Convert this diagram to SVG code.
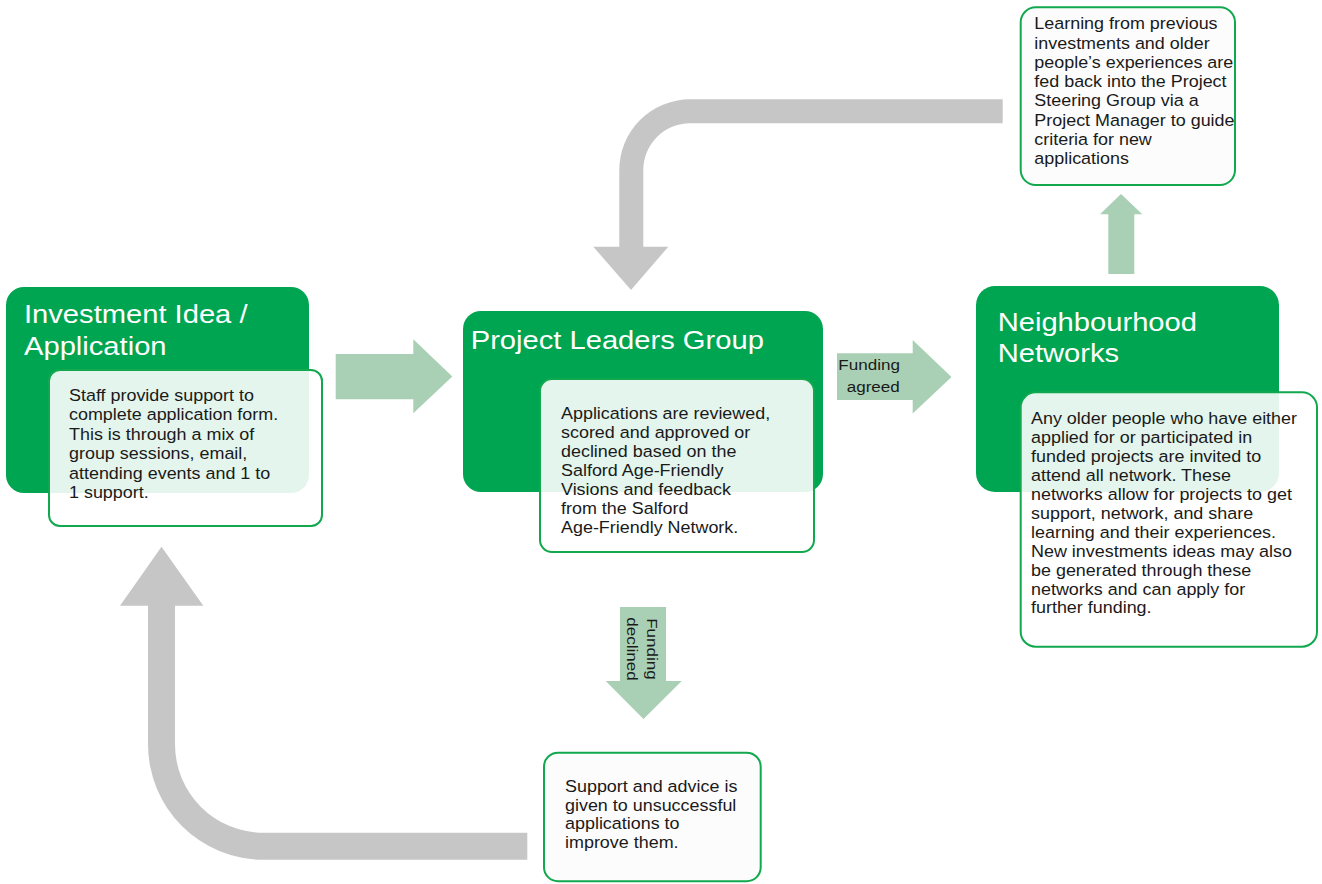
<svg xmlns="http://www.w3.org/2000/svg" width="1322" height="884" viewBox="0 0 1322 884">
<style>
.g{fill:#00a551}
.inner{fill:#ffffff;fill-opacity:0.89;stroke:#12a84e;stroke-width:2}
.note{fill:#fcfcfc;stroke:#12a84e;stroke-width:2}
.t{font-family:"Liberation Sans",Arial,sans-serif;font-size:16.3px;fill:#1a1a1a}
.s{font-family:"Liberation Sans",Arial,sans-serif;font-size:15.5px;fill:#1a1a1a}
.h{font-family:"Liberation Sans",Arial,sans-serif;font-size:26.5px;fill:#ffffff}
.la{fill:#a9d0b4}
.gr{fill:#c6c6c6}
</style>
<rect width="1322" height="884" fill="#ffffff"/>
<g id="connectors">
<path class="gr" d="M1002.7 99.3 L690 99.3 A70.7 70.7 0 0 0 619.3 170 L619.3 246.7 L593.3 246.7 L631 290 L668.3 246.7 L643.3 246.7 L643.3 170 A46.7 46.7 0 0 1 690 123.3 L1002.7 123.3 Z"/>
<path class="gr" d="M527.3 832.8 L263.5 832.8 A88.5 88.5 0 0 1 175 744.3 L175 605.7 L203.3 605.7 L161.5 546.7 L120 605.7 L148 605.7 L148 744.3 A115.5 115.5 0 0 0 263.5 859.8 L527.3 859.8 Z"/>
<path class="la" d="M335.7 354 L413.3 354 L413.3 339.3 L452.3 376.5 L413.3 413.3 L413.3 399.3 L335.7 399.3 Z"/>
<g id="funding-agreed">
<path class="la" d="M837 353.3 L912.7 353.3 L912.7 340 L951.5 377 L912.7 413.5 L912.7 400 L837 400 Z"/>
<text class="s" transform="translate(838.3,370) scale(1.1,1)">Funding</text>
<text class="s" transform="translate(846.7,392) scale(1.1,1)">agreed</text>
</g>
<g id="funding-declined">
<path class="la" d="M620 607 L666 607 L666 681 L681.7 681 L643.5 719 L605.7 681 L620 681 Z"/>
<text class="s" text-anchor="middle" transform="translate(646.7,649) rotate(90) scale(1.1,1)"><tspan x="0" y="0">Funding</tspan><tspan x="0" y="19.4">declined</tspan></text>
</g>
<path class="la" d="M1108.3 274 L1108.3 214.3 L1100 214.3 L1121 194 L1142.3 214.3 L1134.3 214.3 L1134.3 274 Z"/>
</g>
<g id="investment-idea">
<rect class="g" x="6" y="287" width="303" height="206" rx="18"/>
<text class="h" transform="translate(24,322.7) scale(1.1,1)"><tspan x="0" y="0">Investment Idea /</tspan><tspan x="0" y="32">Application</tspan></text>
<rect class="inner" x="49" y="370" width="273" height="156" rx="11"/>
<text class="t" transform="translate(69,401) scale(1.1,1)"><tspan x="0" y="0">Staff provide support to</tspan><tspan x="0" y="19.4">complete application form.</tspan><tspan x="0" y="38.8">This is through a mix of</tspan><tspan x="0" y="58.2">group sessions, email,</tspan><tspan x="0" y="77.6">attending events and 1 to</tspan><tspan x="0" y="97">1 support.</tspan></text>
</g>
<g id="project-leaders-group">
<rect class="g" x="463" y="311" width="360" height="181" rx="18"/>
<text class="h" transform="translate(470.7,349.3) scale(1.1,1)">Project Leaders Group</text>
<rect class="inner" x="540" y="379" width="274" height="173" rx="12"/>
<text class="t" transform="translate(561,419) scale(1.1,1)"><tspan x="0" y="0">Applications are reviewed,</tspan><tspan x="0" y="19.05">scored and approved or</tspan><tspan x="0" y="38.1">declined based on the</tspan><tspan x="0" y="57.15">Salford Age-Friendly</tspan><tspan x="0" y="76.2">Visions and feedback</tspan><tspan x="0" y="95.25">from the Salford</tspan><tspan x="0" y="114.3">Age-Friendly Network.</tspan></text>
</g>
<g id="neighbourhood-networks">
<rect class="g" x="976" y="286" width="303" height="206" rx="19"/>
<text class="h" transform="translate(997.7,331) scale(1.1,1)"><tspan x="0" y="0">Neighbourhood</tspan><tspan x="0" y="31.3">Networks</tspan></text>
<rect class="inner" x="1020.7" y="392.3" width="296.3" height="254.4" rx="15"/>
<text class="t" transform="translate(1031,424) scale(1.1,1)"><tspan x="0" y="0">Any older people who have either</tspan><tspan x="0" y="18.95">applied for or participated in</tspan><tspan x="0" y="37.9">funded projects are invited to</tspan><tspan x="0" y="56.85">attend all network. These</tspan><tspan x="0" y="75.8">networks allow for projects to get</tspan><tspan x="0" y="94.75">support, network, and share</tspan><tspan x="0" y="113.7">learning and their experiences.</tspan><tspan x="0" y="132.65">New investments ideas may also</tspan><tspan x="0" y="151.6">be generated through these</tspan><tspan x="0" y="170.55">networks and can apply for</tspan><tspan x="0" y="189.5">further funding.</tspan></text>
</g>
<g id="learning-feedback">
<rect class="note" x="1020.7" y="7.3" width="214.3" height="177.7" rx="15"/>
<text class="t" transform="translate(1034.3,29.3) scale(1.1,1)"><tspan x="0" y="0">Learning from previous</tspan><tspan x="0" y="19.3">investments and older</tspan><tspan x="0" y="38.6">people’s experiences are</tspan><tspan x="0" y="57.9">fed back into the Project</tspan><tspan x="0" y="77.2">Steering Group via a</tspan><tspan x="0" y="96.5">Project Manager to guide</tspan><tspan x="0" y="115.8">criteria for new</tspan><tspan x="0" y="135.1">applications</tspan></text>
</g>
<g id="support-advice">
<rect class="note" x="544" y="752.7" width="216.7" height="128.5" rx="14"/>
<text class="t" transform="translate(565,791.7) scale(1.1,1)"><tspan x="0" y="0">Support and advice is</tspan><tspan x="0" y="18.9">given to unsuccessful</tspan><tspan x="0" y="37.8">applications to</tspan><tspan x="0" y="56.7">improve them.</tspan></text>
</g>
</svg>
